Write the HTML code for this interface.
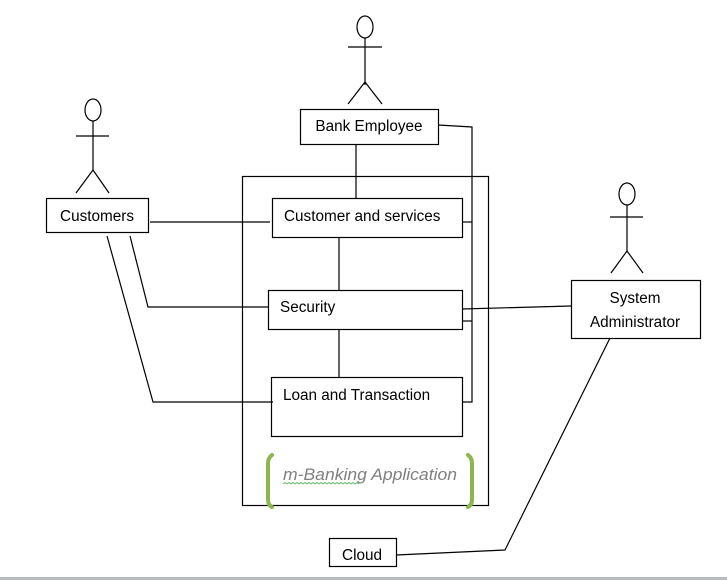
<!DOCTYPE html>
<html><head><style>html,body{margin:0;padding:0;background:#fff}svg{display:block}</style></head><body>
<svg width="727" height="580" xmlns="http://www.w3.org/2000/svg" font-family="Liberation Sans, sans-serif" font-size="15.3">
<rect x="0" y="577" width="727" height="3" fill="#b8bcc0"/>
<g stroke="#000" stroke-width="1.2" fill="none">
<ellipse cx="365" cy="27" rx="8" ry="11" fill="#fff"/>
<line x1="365" y1="38" x2="365" y2="85"/><line x1="348" y1="47" x2="382" y2="47"/>
<line x1="365" y1="82" x2="348" y2="104"/><line x1="365" y1="82" x2="382" y2="104"/>
<ellipse cx="93" cy="110" rx="8" ry="11" fill="#fff"/>
<line x1="93" y1="121" x2="93" y2="170"/><line x1="76" y1="136" x2="109" y2="136"/>
<line x1="93" y1="170" x2="76" y2="193"/><line x1="93" y1="170" x2="109" y2="193"/>
<ellipse cx="627" cy="194" rx="8" ry="11" fill="#fff"/>
<line x1="627" y1="205" x2="627" y2="251"/><line x1="610" y1="217" x2="643" y2="217"/>
<line x1="627" y1="251" x2="611" y2="273"/><line x1="627" y1="251" x2="643" y2="273"/>
<rect x="242.5" y="176.5" width="246" height="329"/>
<rect x="300.5" y="109.5" width="138" height="35"/>
<rect x="46.5" y="198.5" width="102" height="34"/>
<rect x="571.5" y="280.5" width="129" height="58"/>
<rect x="272.5" y="198.5" width="190" height="39"/>
<rect x="268.5" y="290.5" width="194" height="39"/>
<rect x="271.5" y="377.5" width="191" height="59"/>
<rect x="329.5" y="538.5" width="67" height="28"/>
<polyline points="438,125 472,127 472,402 462,402"/>
<line x1="462" y1="222" x2="472" y2="222"/>
<line x1="462" y1="321" x2="472" y2="321"/>
<line x1="356" y1="144" x2="356" y2="198"/>
<line x1="150" y1="222" x2="270" y2="222"/>
<polyline points="130,236 148,307 268,307"/>
<polyline points="107,236 153,402 273,402"/>
<line x1="339" y1="237" x2="339" y2="290"/>
<line x1="339" y1="329" x2="339" y2="377"/>
<line x1="462" y1="309" x2="571" y2="306"/>
<polyline points="610,338 505,550 396,555"/>
</g>
<g stroke="#8db64f" stroke-width="4" fill="none" stroke-linecap="round">
<path d="M272,455 Q268,458 268,463 L268,500 Q268,505 272,507"/>
<path d="M468,455 Q472,458 472,463 L472,500 Q472,505 468,507"/>
</g>
<g fill="#000">
<text x="369" y="131" text-anchor="middle">Bank Employee</text>
<text x="97" y="221" text-anchor="middle">Customers</text>
<text x="284" y="221">Customer and services</text>
<text x="280" y="312">Security</text>
<text x="283" y="400">Loan and Transaction</text>
<text x="635" y="303" text-anchor="middle">System</text>
<text x="635" y="327" text-anchor="middle">Administrator</text>
<text x="362" y="560" text-anchor="middle">Cloud</text>
</g>
<text x="283" y="480" font-size="17" font-style="italic" fill="#808080" textLength="174" lengthAdjust="spacingAndGlyphs">m-Banking Application</text>
<path d="M283,484 l2,-1.5 l2,1.5 l2,-1.5 l2,1.5 l2,-1.5 l2,1.5 l2,-1.5 l2,1.5 l2,-1.5 l2,1.5 l2,-1.5 l2,1.5 l2,-1.5 l2,1.5 l2,-1.5 l2,1.5 l2,-1.5 l2,1.5 l2,-1.5 l2,1.5 l2,-1.5 l2,1.5 l2,-1.5 l2,1.5 l2,-1.5 l2,1.5 l2,-1.5 l2,1.5 l2,-1.5 l2,1.5 l2,-1.5 l2,1.5 l2,-1.5 l2,1.5 l2,-1.5 l2,1.5 l2,-1.5 l2,1.5" stroke="#5cb85c" stroke-width="0.8" fill="none"/>
</svg>
</body></html>
